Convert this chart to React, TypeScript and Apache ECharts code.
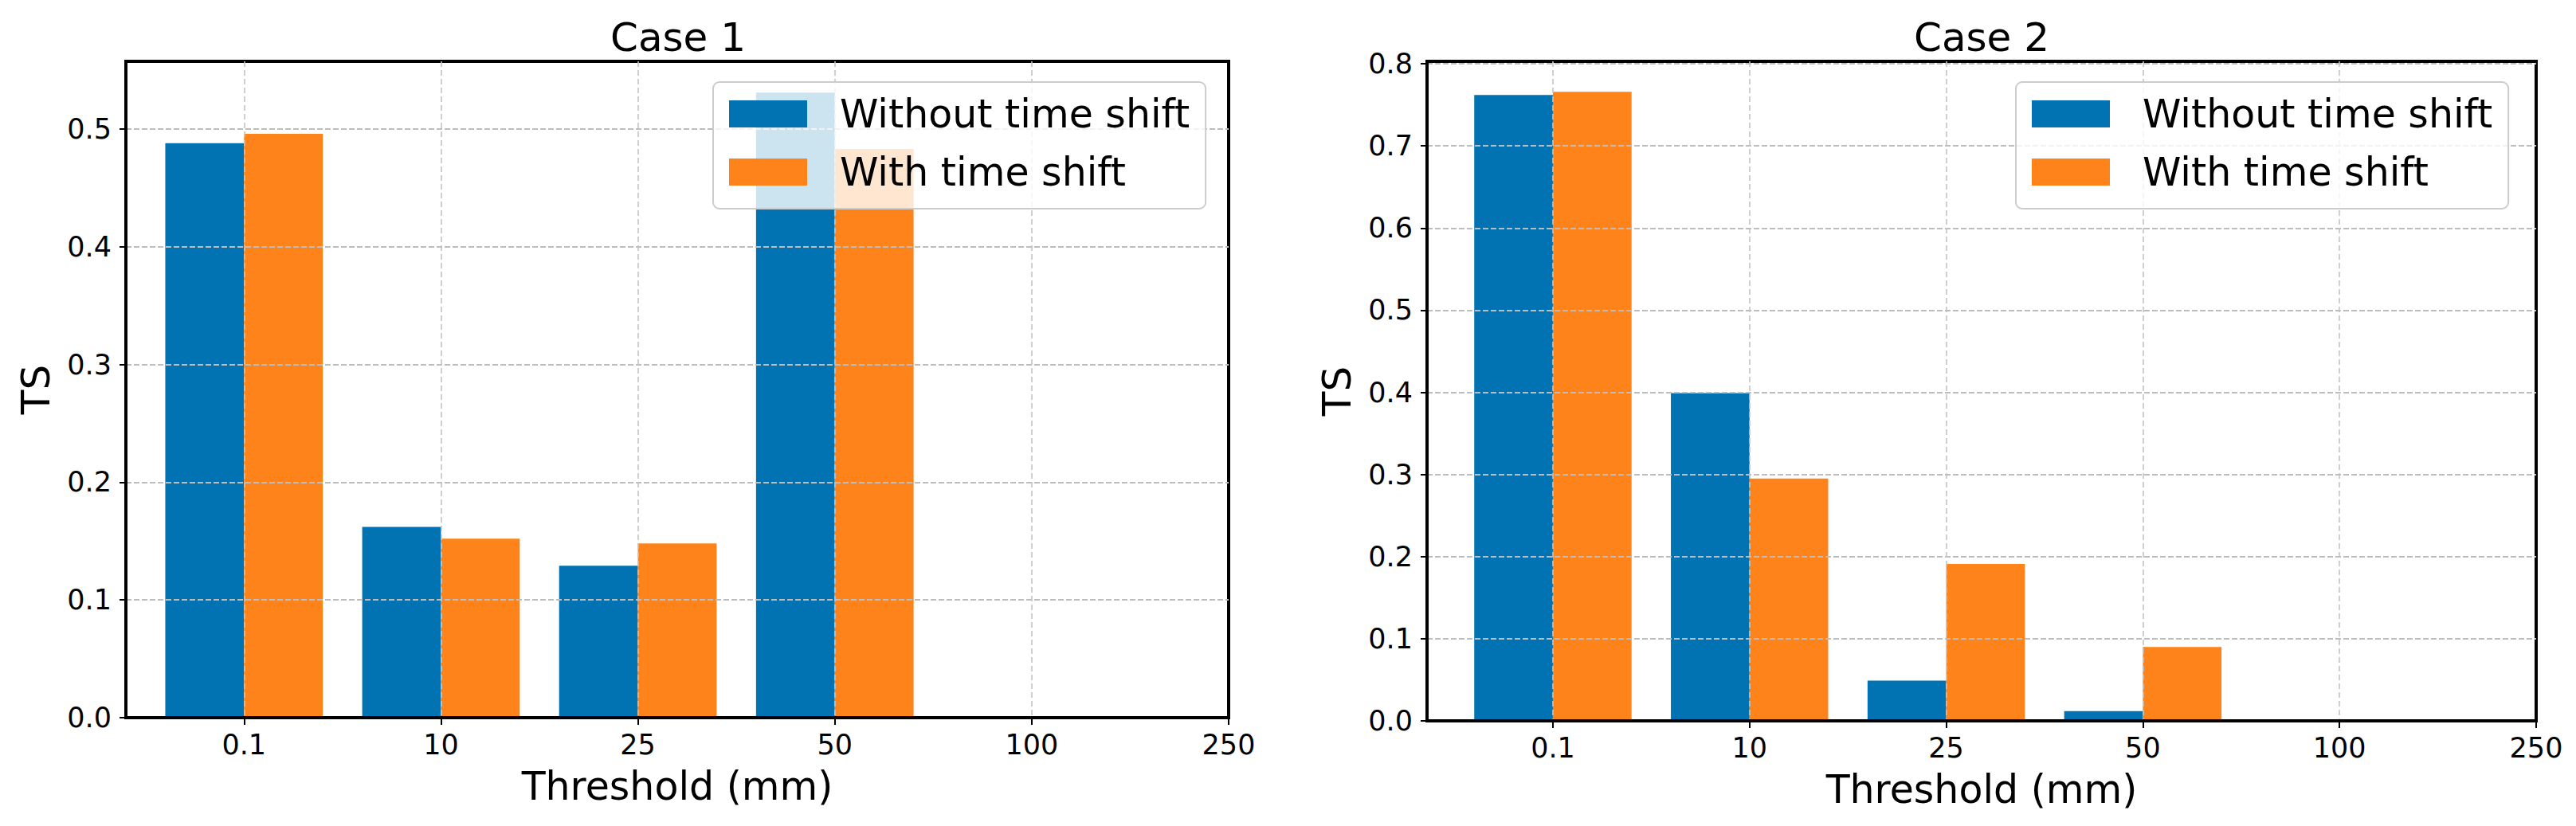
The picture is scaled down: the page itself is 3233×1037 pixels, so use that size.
import React, { useEffect, useRef } from "react";
import * as echarts from "echarts";

const CATEGORIES = ["0.1", "10", "25", "50", "100", "250"];
const SERIES_NAMES = ["Without time shift", "With time shift"];
const CASE1_WITHOUT = [0.488, 0.162, 0.129, 0.531, 0, 0];
const CASE1_WITH = [0.496, 0.152, 0.148, 0.483, 0, 0];
const CASE2_WITHOUT = [0.762, 0.399, 0.049, 0.012, 0, 0];
const CASE2_WITH = [0.766, 0.295, 0.191, 0.09, 0, 0];
const TITLES = ["Case 1", "Case 2"];
const X_NAME = "Threshold (mm)";
const Y_NAME = "TS";

const BLUE = "#0173b2";
const ORANGE = "#fe831b";
const FONT = "DejaVu Sans";

export default function App() {
  const ref = useRef<HTMLDivElement>(null);
  useEffect(() => {
    const chart = echarts.init(ref.current!, null, { renderer: "svg" });

    const grids = [
      { left: 158, top: 77, width: 1384, height: 824 },
      { left: 1791, top: 77, width: 1392, height: 828 },
    ];
    const xMins = [-0.6, -0.64];
    const yMaxs = [0.5575, 0.803];
    const data = [
      [CASE1_WITHOUT, CASE1_WITH],
      [CASE2_WITHOUT, CASE2_WITH],
    ];
    const colors = [BLUE, ORANGE];
    const offsets = [-0.2, 0.2];

    const xAxes = grids.map((_, g) => ({
      type: "value",
      gridIndex: g,
      min: xMins[g],
      max: 5,
      splitNumber: 5,
      minInterval: 1,
      maxInterval: 1,
      z: 3,
      name: X_NAME,
      nameLocation: "middle",
      nameGap: 62,
      nameTextStyle: { fontFamily: FONT, fontSize: 49, color: "#000", lineHeight: 49 },
      axisLine: { show: true, onZero: false, lineStyle: { color: "#000", width: 4 } },
      axisTick: { show: true, length: 9, lineStyle: { color: "#000", width: 2 } },
      axisLabel: {
        show: true,
        showMinLabel: false,
        margin: 16,
        fontFamily: FONT,
        fontSize: 35,
        lineHeight: 35,
        color: "#000",
        formatter: (v: number) => {
          const i = Math.round(v);
          return Math.abs(v - i) < 1e-6 && i >= 0 && i < CATEGORIES.length ? CATEGORIES[i] : "";
        },
      },
      splitLine: {
        show: true,
        showMinLine: false,
        showMaxLine: false,
        lineStyle: { color: "#c4c4c4", width: 1.6, type: [7, 4] },
      },
    }));

    const yAxes = grids.map((_, g) => ({
      type: "value",
      gridIndex: g,
      min: 0,
      max: yMaxs[g],
      interval: 0.1,
      z: 3,
      name: Y_NAME,
      nameLocation: "middle",
      nameRotate: 90,
      nameGap: 88,
      nameTextStyle: { fontFamily: FONT, fontSize: 50, color: "#000", lineHeight: 50 },
      axisLine: { show: true, onZero: false, lineStyle: { color: "#000", width: 4 } },
      axisTick: { show: true, length: 8, lineStyle: { color: "#000", width: 2 } },
      axisLabel: {
        show: true,
        showMaxLabel: false,
        margin: 18,
        fontFamily: FONT,
        fontSize: 35,
        color: "#000",
        formatter: (v: number) => v.toFixed(1),
      },
      splitLine: {
        show: true,
        showMinLine: false,
        showMaxLine: false,
        lineStyle: { color: "#bdbdbd", width: 2.2, type: [7, 3] },
      },
    }));

    const series: any[] = [];
    grids.forEach((_, g) => {
      SERIES_NAMES.forEach((name, s) => {
        series.push({
          type: "custom",
          name,
          xAxisIndex: g,
          yAxisIndex: g,
          z: 2,
          itemStyle: { color: colors[s] },
          encode: { x: 0, y: 1 },
          data: data[g][s].map((v, i) => [i, v]),
          renderItem: (_p: any, api: any) => {
            const x = api.value(0) as number;
            const y = api.value(1) as number;
            const p0 = api.coord([x + offsets[s] - 0.2, y]);
            const p1 = api.coord([x + offsets[s] + 0.2, 0]);
            return {
              type: "rect",
              shape: { x: p0[0], y: p0[1], width: p1[0] - p0[0], height: p1[1] - p0[1] },
              style: { fill: colors[s] },
            };
          },
        });
      });
    });

    const legendLefts = [895, 2530];
    const legends = legendLefts.map((left) => ({
      left,
      top: 103,
      orient: "vertical",
      data: SERIES_NAMES,
      icon: "rect",
      itemWidth: 98,
      itemHeight: 34,
      itemGap: 23,
      selectedMode: false,
      padding: [15, 20, 21, 20],
      backgroundColor: "rgba(255,255,255,0.8)",
      borderColor: "#cccccc",
      borderWidth: 2,
      borderRadius: 8,
      textStyle: {
        fontFamily: FONT,
        fontSize: 49,
        lineHeight: 50,
        color: "#000",
        padding: [0, 0, 0, 36],
      },
    }));

    const titleCenters = [851, 2487];
    const titles = TITLES.map((t, i) => ({
      text: t,
      left: titleCenters[i],
      top: 22,
      textAlign: "center",
      padding: 0,
      textStyle: { fontFamily: FONT, fontSize: 50, lineHeight: 50, fontWeight: "normal", color: "#000" },
    }));

    chart.setOption({
      animation: false,
      backgroundColor: "#fff",
      title: titles,
      legend: legends,
      grid: grids.map((gr) => ({ ...gr, show: true, borderColor: "#000", borderWidth: 4, backgroundColor: "transparent" })),
      xAxis: xAxes,
      yAxis: yAxes,
      series,
    });
    return () => chart.dispose();
  }, []);
  return <div ref={ref} style={{ position: "fixed", left: 0, top: 0, width: 3233, height: 1037 }} />;
}
